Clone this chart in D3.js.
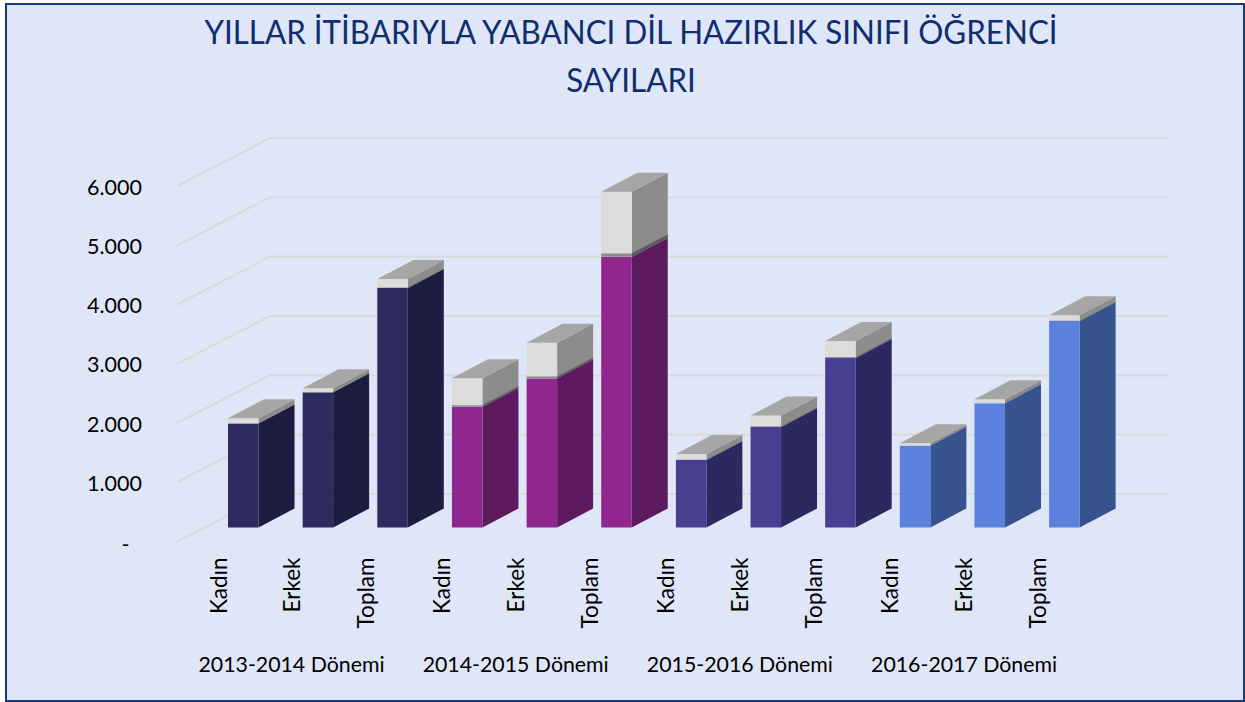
<!DOCTYPE html>
<html><head><meta charset="utf-8">
<script src="https://cdn.jsdelivr.net/npm/d3@7"></script>
<style>html,body{margin:0;padding:0;background:#fff}svg{display:block}text{font-family:Lato,sans-serif;fill:#000}</style>
</head><body><svg id="c" width="1245" height="702"></svg>
<script>
const titleLines = ["YILLAR İTİBARIYLA YABANCI DİL HAZIRLIK SINIFI ÖĞRENCİ", "SAYILARI"];
const periods = ["2013-2014 Dönemi", "2014-2015 Dönemi", "2015-2016 Dönemi", "2016-2017 Dönemi"];
const genders = ["Kadın", "Erkek", "Toplam"];
const yTicks = [0, 1000, 2000, 3000, 4000, 5000, 6000];
const yLabels = ["-", "1.000", "2.000", "3.000", "4.000", "5.000", "6.000"];
const mainValues = [1757, 2284, 4046, 2041, 2520, 4574, 1140, 1698, 2863, 1382, 2098, 3488];
const greyValues = [88, 67, 152, 479, 602, 1098, 102, 194, 287, 40, 68, 96];
const frontColors = ["#2E2A60", "#90278E", "#483F92", "#5A82DC"];
const sideColors = ["#1E1C40", "#5E1A5E", "#2E2860", "#36538E"];

const svg = d3.select("#c");
svg.append("rect").attr("x",6).attr("y",4).attr("width",1238).attr("height",697)
  .attr("fill","#DFE6F8").attr("stroke","#1B3A78").attr("stroke-width",2);

svg.selectAll("text.title").data(titleLines).join("text").attr("class","title")
  .attr("transform",(d,i)=>`translate(631,${44+i*47.5}) scale(0.95,1)`).attr("text-anchor","middle")
  .style("font-size","33px").style("fill","#0F2E6E").text(d=>d);

const slots = d3.range(12);
const bw = 30.5;
const barX = i => 228 + i*74.65;
const yBar = d3.scaleLinear().domain([0,6000]).range([527.5,172.3]);
const yFront = d3.scaleLinear().domain([0,6000]).range([541.5,186.3]);
const yBack = d3.scaleLinear().domain([0,6000]).range([494,138]);
const dx = 36, dy = 19;
const wallL = 270, wallR = 1168, floorL = 177;

const grid = svg.append("g").attr("stroke","#D9DBD9").attr("stroke-width",2.2).attr("fill","none");
grid.selectAll("path").data(yTicks).join("path")
  .attr("d",v=>d3.line()([[floorL,yFront(v)],[wallL,yBack(v)],[wallR,yBack(v)]]));

svg.selectAll("text.yl").data(yTicks).join("text").attr("class","yl")
  .attr("x",v=>v===0?129.5:142).attr("y",v=>yFront(v)+(v===0?10.5:8.5)).attr("text-anchor","end")
  .style("font-size","21.5px").text((v,i)=>yLabels[i]);

const path = d3.line();
function box(g,x0,yb,yt,front,side,top){
  g.append("path").attr("d",path([[x0+bw,yb],[x0+bw+dx,yb-dy],[x0+bw+dx,yt-dy],[x0+bw,yt]])+"Z").attr("fill",side);
  g.append("rect").attr("x",x0).attr("y",yt).attr("width",bw).attr("height",yb-yt).attr("fill",front);
  if(top) g.append("path").attr("d",path([[x0,yt],[x0+dx,yt-dy],[x0+bw+dx,yt-dy],[x0+bw,yt]])+"Z").attr("fill",top);
}
const bars = svg.append("g");
slots.forEach(i=>{
  const g = bars.append("g");
  const p = Math.floor(i/3), x0 = barX(i);
  const m = mainValues[i], t = m+greyValues[i];
  box(g,x0,yBar(0),yBar(m),frontColors[p],sideColors[p],null);
  const seam = (yBar(m)-yBar(t))*0.05;
  box(g,x0,yBar(m),yBar(t),"#DCDCDC","#8C8C8C","#A6A6A6");
  box(g,x0,yBar(m),yBar(m)-seam,"#8A8A8A","#5A5A5A",null);
});

svg.selectAll("text.cat").data(slots).join("text").attr("class","cat")
  .attr("text-anchor","end")
  .attr("transform",i=>`translate(${barX(i)-1.5-(i%3)*0.9},557.5) rotate(-90)`)
  .style("font-size","22.5px").text(i=>genders[i%3]);

svg.selectAll("text.per").data(periods).join("text").attr("class","per")
  .attr("x",(d,i)=>291.5+i*224.2).attr("y",671.5).attr("text-anchor","middle")
  .style("font-size","21.3px").text(d=>d);
</script></body></html>
